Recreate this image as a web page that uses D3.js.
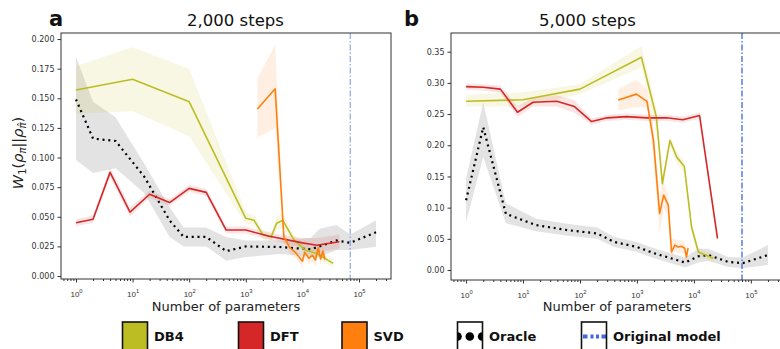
<!DOCTYPE html>
<html>
<head>
<meta charset="utf-8">
<script src="https://cdn.jsdelivr.net/npm/d3@7"></script>
<style>
  body { margin: 0; background: #fff; }
  svg { display: block; font-family: 'DejaVu Sans', sans-serif; }
</style>
</head>
<body>
<div id="chart"></div>
<script>
// ---- data (n = number of parameters) ----
const ORIGINAL_MODEL_PARAMS = 70000;

// panel a : 2,000 steps
const aOracleN    = [1, 2, 5, 16, 45, 80, 200, 450, 1000, 4000, 14000, 20000, 40000, 70000, 200000];
const aOracleMean = [0.149, 0.116, 0.114, 0.084, 0.047, 0.033, 0.033, 0.021, 0.025, 0.0245, 0.0225, 0.025, 0.030, 0.028, 0.037];
const aOracleLo   = [0.098, 0.087, 0.091, 0.070, 0.033, 0.025, 0.025, 0.013, 0.016, 0.0186, 0.0165, 0.016, 0.022, 0.022, 0.0247];
const aOracleHi   = [0.185, 0.147, 0.134, 0.095, 0.058, 0.041, 0.041, 0.033, 0.030, 0.030, 0.032, 0.040, 0.043, 0.035, 0.047];

const aDb4N    = [1, 10, 100, 1000, 1400, 2000, 2800, 3500, 4500, 7000, 11000, 18000, 35000];
const aDb4Mean = [0.157, 0.166, 0.147, 0.0487, 0.047, 0.035, 0.033, 0.0445, 0.047, 0.031, 0.022, 0.019, 0.0107];
const aDb4Lo   = [0.137, 0.139, 0.118, 0.044, 0.043, 0.031, 0.029, 0.039, 0.041, 0.027, 0.018, 0.015, 0.007];
const aDb4Hi   = [0.177, 0.193, 0.175, 0.054, 0.051, 0.039, 0.037, 0.050, 0.053, 0.035, 0.026, 0.023, 0.014];

const aDftN    = [1, 2, 4, 9, 20, 45, 100, 200, 450, 1000, 2500, 10000, 18000, 45000];
const aDftMean = [0.045, 0.048, 0.0875, 0.054, 0.069, 0.062, 0.074, 0.0706, 0.0388, 0.0388, 0.0338, 0.028, 0.026, 0.029];
const aDftLo   = [0.042, 0.045, 0.0835, 0.050, 0.066, 0.059, 0.071, 0.0676, 0.0358, 0.0358, 0.0308, 0.024, 0.020, 0.023];
const aDftHi   = [0.048, 0.051, 0.0915, 0.058, 0.072, 0.065, 0.077, 0.0736, 0.0418, 0.0418, 0.0368, 0.032, 0.032, 0.035];

const aSvdN    = [1600, 3300, 4700, 6000, 7500, 10000, 11000, 13000, 15000, 17000, 19000, 21000, 23000, 25000];
const aSvdMean = [0.141, 0.158, 0.033, 0.024, 0.020, 0.0125, 0.020, 0.015, 0.0175, 0.0135, 0.024, 0.0145, 0.021, 0.014];
const aSvdLo   = [0.117, 0.125, 0.028, 0.019, 0.015, 0.0075, 0.015, 0.010, 0.0125, 0.0085, 0.019, 0.0095, 0.016, 0.009];
const aSvdHi   = [0.167, 0.195, 0.038, 0.029, 0.025, 0.0175, 0.025, 0.020, 0.0225, 0.0185, 0.029, 0.0195, 0.026, 0.019];

// panel b : 5,000 steps
const bOracleN    = [1, 2, 5, 17, 60, 200, 400, 1000, 2000, 5000, 7000, 12000, 18000, 40000, 72000, 200000];
const bOracleMean = [0.112, 0.229, 0.090, 0.072, 0.064, 0.0586, 0.045, 0.037, 0.027, 0.016, 0.012, 0.022, 0.024, 0.013, 0.011, 0.024];
const bOracleLo   = [0.077, 0.181, 0.075, 0.062, 0.055, 0.050, 0.037, 0.029, 0.019, 0.008, 0.004, 0.012, 0.015, 0.005, 0.003, 0.008];
const bOracleHi   = [0.147, 0.269, 0.107, 0.082, 0.074, 0.068, 0.053, 0.045, 0.035, 0.024, 0.020, 0.034, 0.034, 0.021, 0.020, 0.040];

const bDb4N    = [1, 10, 100, 1200, 2200, 2800, 3800, 5000, 6800, 9100, 12000, 22000];
const bDb4Mean = [0.2705, 0.273, 0.290, 0.341, 0.245, 0.1385, 0.2077, 0.181, 0.166, 0.069, 0.029, 0.0187];
const bDb4Lo   = [0.262, 0.262, 0.282, 0.325, 0.225, 0.125, 0.200, 0.170, 0.155, 0.060, 0.022, 0.012];
const bDb4Hi   = [0.281, 0.285, 0.298, 0.359, 0.260, 0.150, 0.215, 0.190, 0.175, 0.075, 0.035, 0.025];

const bDftN    = [1, 2, 4, 8, 15, 39, 80, 160, 300, 660, 1500, 3300, 6400, 12600, 26000];
const bDftMean = [0.294, 0.293, 0.290, 0.253, 0.269, 0.2705, 0.262, 0.238, 0.244, 0.246, 0.244, 0.244, 0.241, 0.2476, 0.0506];
const bDftLo   = [0.289, 0.288, 0.284, 0.245, 0.262, 0.262, 0.252, 0.233, 0.239, 0.241, 0.239, 0.239, 0.236, 0.2426, 0.044];
const bDftHi   = [0.299, 0.298, 0.296, 0.262, 0.276, 0.280, 0.272, 0.243, 0.249, 0.251, 0.249, 0.249, 0.246, 0.2526, 0.057];

const bSvdN    = [470, 980, 1500, 1950, 2500, 2950, 3550, 4050, 4650, 5300, 6000, 6900, 7400, 7900];
const bSvdMean = [0.2726, 0.282, 0.2705, 0.2077, 0.0905, 0.120, 0.104, 0.029, 0.040, 0.037, 0.038, 0.035, 0.021, 0.035];
const bSvdLo   = [0.256, 0.261, 0.261, 0.180, 0.060, 0.100, 0.085, 0.020, 0.030, 0.027, 0.028, 0.025, 0.011, 0.025];
const bSvdHi   = [0.290, 0.305, 0.290, 0.230, 0.120, 0.140, 0.120, 0.050, 0.050, 0.047, 0.048, 0.045, 0.031, 0.045];

const xTicks = [1, 10, 100, 1000, 10000, 100000];
const aYTicks = [0, 0.025, 0.05, 0.075, 0.1, 0.125, 0.15, 0.175, 0.2];
const bYTicks = [0, 0.05, 0.1, 0.15, 0.2, 0.25, 0.3, 0.35];

const COLORS = { db4: '#bcbd22', dft: '#d62728', svd: '#ff7f0e', oracle: '#000', orig: '#4169e1' };

const width = 780;
const height = 349;

const svg = d3.select('#chart')
  .append('svg')
  .attr('width', width)
  .attr('height', height);

const rows = (n, m, lo, hi) => n.map((d, i) => ({ n: d, m: m[i], lo: lo[i], hi: hi[i] }));

function drawPanel(p) {
  const x = d3.scaleLog().domain([10 ** -0.265, 10 ** 5.565]).range([p.x0, p.x1]);
  const y = d3.scaleLinear().domain(p.yDomain).range([p.y1, p.y0]);

  svg.append('clipPath')
    .attr('id', 'clip-' + p.id)
    .append('rect')
    .attr('x', p.x0).attr('y', p.y0)
    .attr('width', p.x1 - p.x0).attr('height', p.y1 - p.y0);

  const plot = svg.append('g').attr('clip-path', `url(#clip-${p.id})`);

  const area = d3.area().x(d => x(d.n)).y0(d => y(d.lo)).y1(d => y(d.hi));
  const line = d3.line().x(d => x(d.n)).y(d => y(d.m));

  // bands first, then lines on top
  p.series.forEach(s => {
    plot.append('path')
      .datum(s.data)
      .attr('d', area)
      .attr('fill', s.color)
      .attr('fill-opacity', s.key === 'oracle' ? 0.11 : 0.12);
  });

  p.series.forEach(s => {
    const path = plot.append('path')
      .datum(s.data)
      .attr('d', line)
      .attr('fill', 'none')
      .attr('stroke', s.color);
    if (s.key === 'oracle') {
      path.attr('stroke-width', 2.2).attr('stroke-dasharray', '2,3.8');
    } else {
      path.attr('stroke-width', 1.6).attr('stroke-linejoin', 'round');
    }
  });

  // original model size
  plot.append('line')
    .attr('x1', x(ORIGINAL_MODEL_PARAMS)).attr('x2', x(ORIGINAL_MODEL_PARAMS))
    .attr('y1', p.y0).attr('y2', p.y1)
    .attr('stroke', COLORS.orig)
    .attr('stroke-opacity', p.origOpacity)
    .attr('stroke-width', 1.3)
    .attr('stroke-dasharray', '6,2,1.5,2');

  // axes
  const yAxis = d3.axisLeft(y).tickValues(p.yTicks).tickFormat(d3.format(p.yFmt)).tickSize(3.5).tickPadding(3);
  const gy = svg.append('g').attr('transform', `translate(${p.x0},0)`).call(yAxis);
  gy.select('.domain').remove();

  const minor = [];
  for (let e = -1; e <= 5; e++) {
    for (let k = 2; k <= 9; k++) {
      const v = k * 10 ** e;
      if (v > x.domain()[0] && v < x.domain()[1]) minor.push(v);
    }
  }
  const gxm = svg.append('g').attr('transform', `translate(0,${p.y1})`)
    .call(d3.axisBottom(x).tickValues(minor).tickFormat('').tickSize(2));
  gxm.select('.domain').remove();

  const gx = svg.append('g').attr('transform', `translate(0,${p.y1})`)
    .call(d3.axisBottom(x).tickValues(xTicks).tickFormat('').tickSize(3.5));
  gx.select('.domain').remove();
  gx.selectAll('.tick').append('text')
    .attr('y', 17.5)
    .attr('fill', '#333')
    .attr('font-size', 8)
    .attr('text-anchor', 'middle')
    .each(function (d) {
      const t = d3.select(this);
      t.append('tspan').text('10');
      t.append('tspan').attr('dy', -3.5).attr('font-size', 5.8).text(Math.round(Math.log10(d)));
    });

  svg.selectAll('.tick line').attr('stroke', '#333');
  gy.selectAll('text').attr('fill', '#333').attr('font-size', 8).attr('font-family', 'DejaVu Sans');

  // spines
  svg.append('rect')
    .attr('x', p.x0).attr('y', p.y0)
    .attr('width', p.x1 - p.x0).attr('height', p.y1 - p.y0)
    .attr('fill', 'none')
    .attr('stroke', '#333')
    .attr('stroke-width', 1);

  svg.append('text')
    .attr('x', (p.x0 + p.x1) / 2).attr('y', 311)
    .attr('text-anchor', 'middle')
    .attr('font-size', 13)
    .attr('fill', '#222')
    .text('Number of parameters');

  svg.append('text')
    .attr('x', p.titleX).attr('y', 26)
    .attr('text-anchor', 'middle')
    .attr('font-size', 16.5)
    .attr('fill', '#111')
    .text(p.title);

  svg.append('text')
    .attr('x', p.letterX).attr('y', 26)
    .attr('font-size', 21)
    .attr('font-weight', 'bold')
    .attr('fill', '#111')
    .text(p.letter);
}

drawPanel({
  id: 'a', x0: 61, x1: 391, y0: 33, y1: 279,
  yDomain: [-0.0025, 0.2051], yTicks: aYTicks, yFmt: '.3f', origOpacity: 0.55,
  title: '2,000 steps', titleX: 235.5, letter: 'a', letterX: 49,
  series: [
    { key: 'oracle', color: COLORS.oracle, data: rows(aOracleN, aOracleMean, aOracleLo, aOracleHi) },
    { key: 'db4', color: COLORS.db4, data: rows(aDb4N, aDb4Mean, aDb4Lo, aDb4Hi) },
    { key: 'dft', color: COLORS.dft, data: rows(aDftN, aDftMean, aDftLo, aDftHi) },
    { key: 'svd', color: COLORS.svd, data: rows(aSvdN, aSvdMean, aSvdLo, aSvdHi) }
  ]
});

drawPanel({
  id: 'b', x0: 451, x1: 783, y0: 33, y1: 280,
  yDomain: [-0.016, 0.380], yTicks: bYTicks, yFmt: '.2f', origOpacity: 1,
  title: '5,000 steps', titleX: 587.5, letter: 'b', letterX: 404,
  series: [
    { key: 'oracle', color: COLORS.oracle, data: rows(bOracleN, bOracleMean, bOracleLo, bOracleHi) },
    { key: 'db4', color: COLORS.db4, data: rows(bDb4N, bDb4Mean, bDb4Lo, bDb4Hi) },
    { key: 'dft', color: COLORS.dft, data: rows(bDftN, bDftMean, bDftLo, bDftHi) },
    { key: 'svd', color: COLORS.svd, data: rows(bSvdN, bSvdMean, bSvdLo, bSvdHi) }
  ]
});

// y label: W_1(rho_pi || rho_pi-hat)
const ylab = svg.append('text')
  .attr('transform', 'translate(23,153) rotate(-90)')
  .attr('text-anchor', 'middle')
  .attr('font-size', 14.5)
  .attr('fill', '#222');
ylab.append('tspan').attr('font-style', 'italic').text('W');
ylab.append('tspan').attr('font-size', 10).attr('dy', 3).text('1');
ylab.append('tspan').attr('dy', -3).text('(');
ylab.append('tspan').attr('font-style', 'italic').text('ρ');
ylab.append('tspan').attr('font-style', 'italic').attr('font-size', 10).attr('dy', 3).text('π');
ylab.append('tspan').attr('dy', -3).text('||');
ylab.append('tspan').attr('font-style', 'italic').text('ρ');
ylab.append('tspan').attr('font-style', 'italic').attr('font-size', 10).attr('dy', 3).text('π\u0302');
ylab.append('tspan').attr('dy', -3).text(')');

// ---- legend ----
const legendItems = [
  { label: 'DB4', x: 122.5, kind: 'patch', color: COLORS.db4 },
  { label: 'DFT', x: 238.5, kind: 'patch', color: COLORS.dft },
  { label: 'SVD', x: 342, kind: 'patch', color: COLORS.svd },
  { label: 'Oracle', x: 457.5, kind: 'oracle', color: COLORS.oracle },
  { label: 'Original model', x: 581.5, kind: 'orig', color: COLORS.orig }
];
const legY = 322;
const legend = svg.append('g');
legendItems.forEach((it, i) => {
  const g = legend.append('g');
  g.append('clipPath').attr('id', 'leg-clip-' + i)
    .append('rect').attr('x', it.x).attr('y', legY).attr('width', 25).attr('height', 30);
  g.append('rect')
    .attr('x', it.x).attr('y', legY)
    .attr('width', 25).attr('height', 30)
    .attr('fill', it.kind === 'patch' ? it.color : '#fff');
  if (it.kind === 'oracle') {
    g.append('g').attr('clip-path', `url(#leg-clip-${i})`)
      .selectAll('circle').data([0, 1, 2]).join('circle')
      .attr('cx', d => it.x + d * 12.3)
      .attr('cy', legY + 14.5)
      .attr('r', 4.3)
      .attr('fill', '#000');
  }
  if (it.kind === 'orig') {
    g.append('line')
      .attr('x1', it.x + 1.5).attr('x2', it.x + 25)
      .attr('y1', legY + 14.5).attr('y2', legY + 14.5)
      .attr('stroke', it.color)
      .attr('stroke-width', 4)
      .attr('stroke-dasharray', '4.5,3,3,2.5,3,2.5,5.5');
  }
  g.append('rect')
    .attr('x', it.x).attr('y', legY)
    .attr('width', 25).attr('height', 30)
    .attr('fill', 'none')
    .attr('stroke', '#111')
    .attr('stroke-width', 1.6);
  g.append('text')
    .attr('x', it.x + 31.5).attr('y', legY + 19)
    .attr('font-size', 13)
    .attr('font-weight', 'bold')
    .attr('fill', '#111')
    .text(it.label);
});
</script>
</body>
</html>
